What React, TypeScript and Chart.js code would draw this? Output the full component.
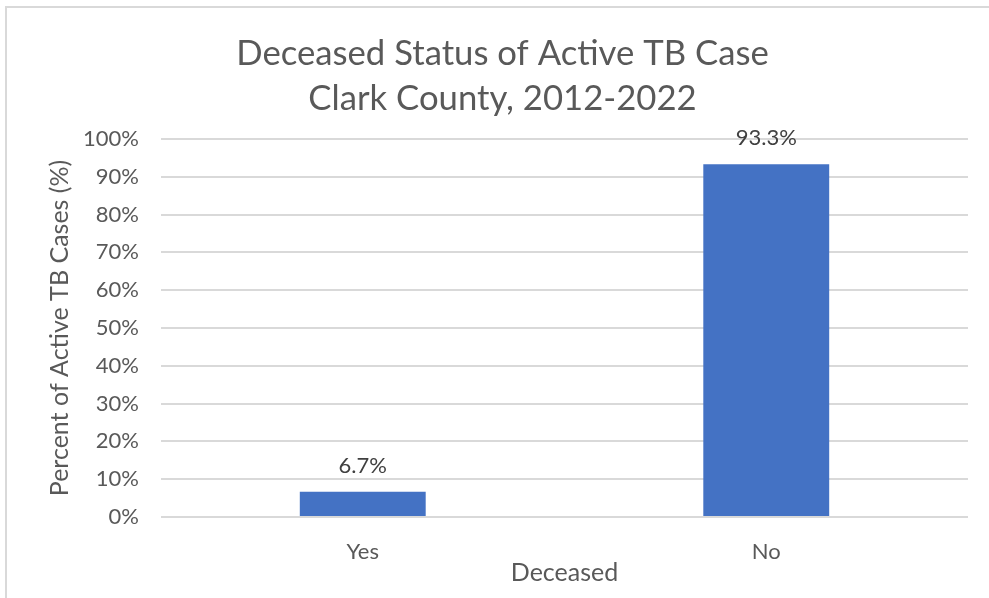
import React, { useEffect, useRef } from "react";
import { Chart, registerables } from "chart.js";

Chart.register(...registerables);

const categories = ["Yes", "No"];
const percentValues = [6.7, 93.3];
const valueLabels = ["6.7%", "93.3%"];
const titleLines = ["Deceased Status of Active TB Case", "Clark County, 2012-2022"];
const yAxisTitle = "Percent of Active TB Cases (%)";
const xAxisTitle = "Deceased";

const FONT = "Lato, 'Open Sans', sans-serif";
const TEXT = "#595959";

const titlePlugin = {
  id: "customTitle",
  afterDraw(chart: any) {
    const ctx = chart.ctx;
    ctx.save();
    ctx.font = `34.7px ${FONT}`;
    ctx.fillStyle = TEXT;
    ctx.textAlign = "center";
    ctx.textBaseline = "alphabetic";
    titleLines.forEach((line, i) => {
      ctx.fillText(line, 502.5, 65 + i * 45);
    });
    ctx.restore();
  },
};

const dataLabelPlugin = {
  id: "dataLabels",
  afterDatasetsDraw(chart: any) {
    const ctx = chart.ctx;
    const meta = chart.getDatasetMeta(0);
    ctx.save();
    ctx.font = `22px ${FONT}`;
    ctx.fillStyle = "#404040";
    ctx.textAlign = "center";
    ctx.textBaseline = "alphabetic";
    meta.data.forEach((bar: any, i: number) => {
      ctx.fillText(valueLabels[i], bar.x, bar.y - 19);
    });
    ctx.restore();
  },
};

export default function App() {
  const ref = useRef<HTMLCanvasElement | null>(null);
  useEffect(() => {
    if (!ref.current) return;
    const chart = new Chart(ref.current, {
      type: "bar",
      data: {
        labels: categories,
        datasets: [
          {
            data: percentValues,
            backgroundColor: "#4472C4",
            categoryPercentage: 1,
            barPercentage: 0.312,
          },
        ],
      },
      options: {
        animation: false,
        responsive: false,
        layout: { padding: { left: 0, right: 21, top: 139, bottom: 0 } },
        plugins: {
          legend: { display: false },
          tooltip: { enabled: false },
          title: { display: false },
        },
        scales: {
          x: {
            grid: { display: false },
            border: { display: false },
            ticks: { color: TEXT, font: { family: FONT, size: 22 }, padding: 14 },
            title: {
              display: true,
              text: xAxisTitle,
              color: TEXT,
              font: { family: FONT, size: 25 },
              padding: { top: 0, bottom: 10 },
            },
            afterFit(scale: any) {
              scale.height = 81;
            },
          },
          y: {
            min: 0,
            max: 100,
            ticks: {
              stepSize: 10,
              color: TEXT,
              font: { family: FONT, size: 22 },
              padding: 22,
              callback: (v: any) => v + "%",
            },
            grid: { color: "#d9d9d9", lineWidth: 2, drawTicks: false },
            border: { display: false },
            title: {
              display: true,
              text: yAxisTitle,
              color: TEXT,
              font: { family: FONT, size: 25 },
              padding: { top: 45, bottom: 0 },
            },
            afterFit(scale: any) {
              scale.width = 161;
            },
          },
        },
      },
      plugins: [dataLabelPlugin, titlePlugin],
    });
    return () => chart.destroy();
  }, []);
  return (
    <div style={{ position: "absolute", left: 0, top: 0, width: 989, height: 598, background: "#fff", overflow: "hidden" }}>
      <div
        style={{
          position: "absolute",
          left: 5,
          top: 6,
          width: 1000,
          height: 700,
          borderLeft: "2px solid #d9d9d9",
          borderTop: "2px solid #d9d9d9",
        }}
      />
      <canvas ref={ref} width={989} height={598} style={{ position: "absolute", left: 0, top: 0 }} />
    </div>
  );
}
